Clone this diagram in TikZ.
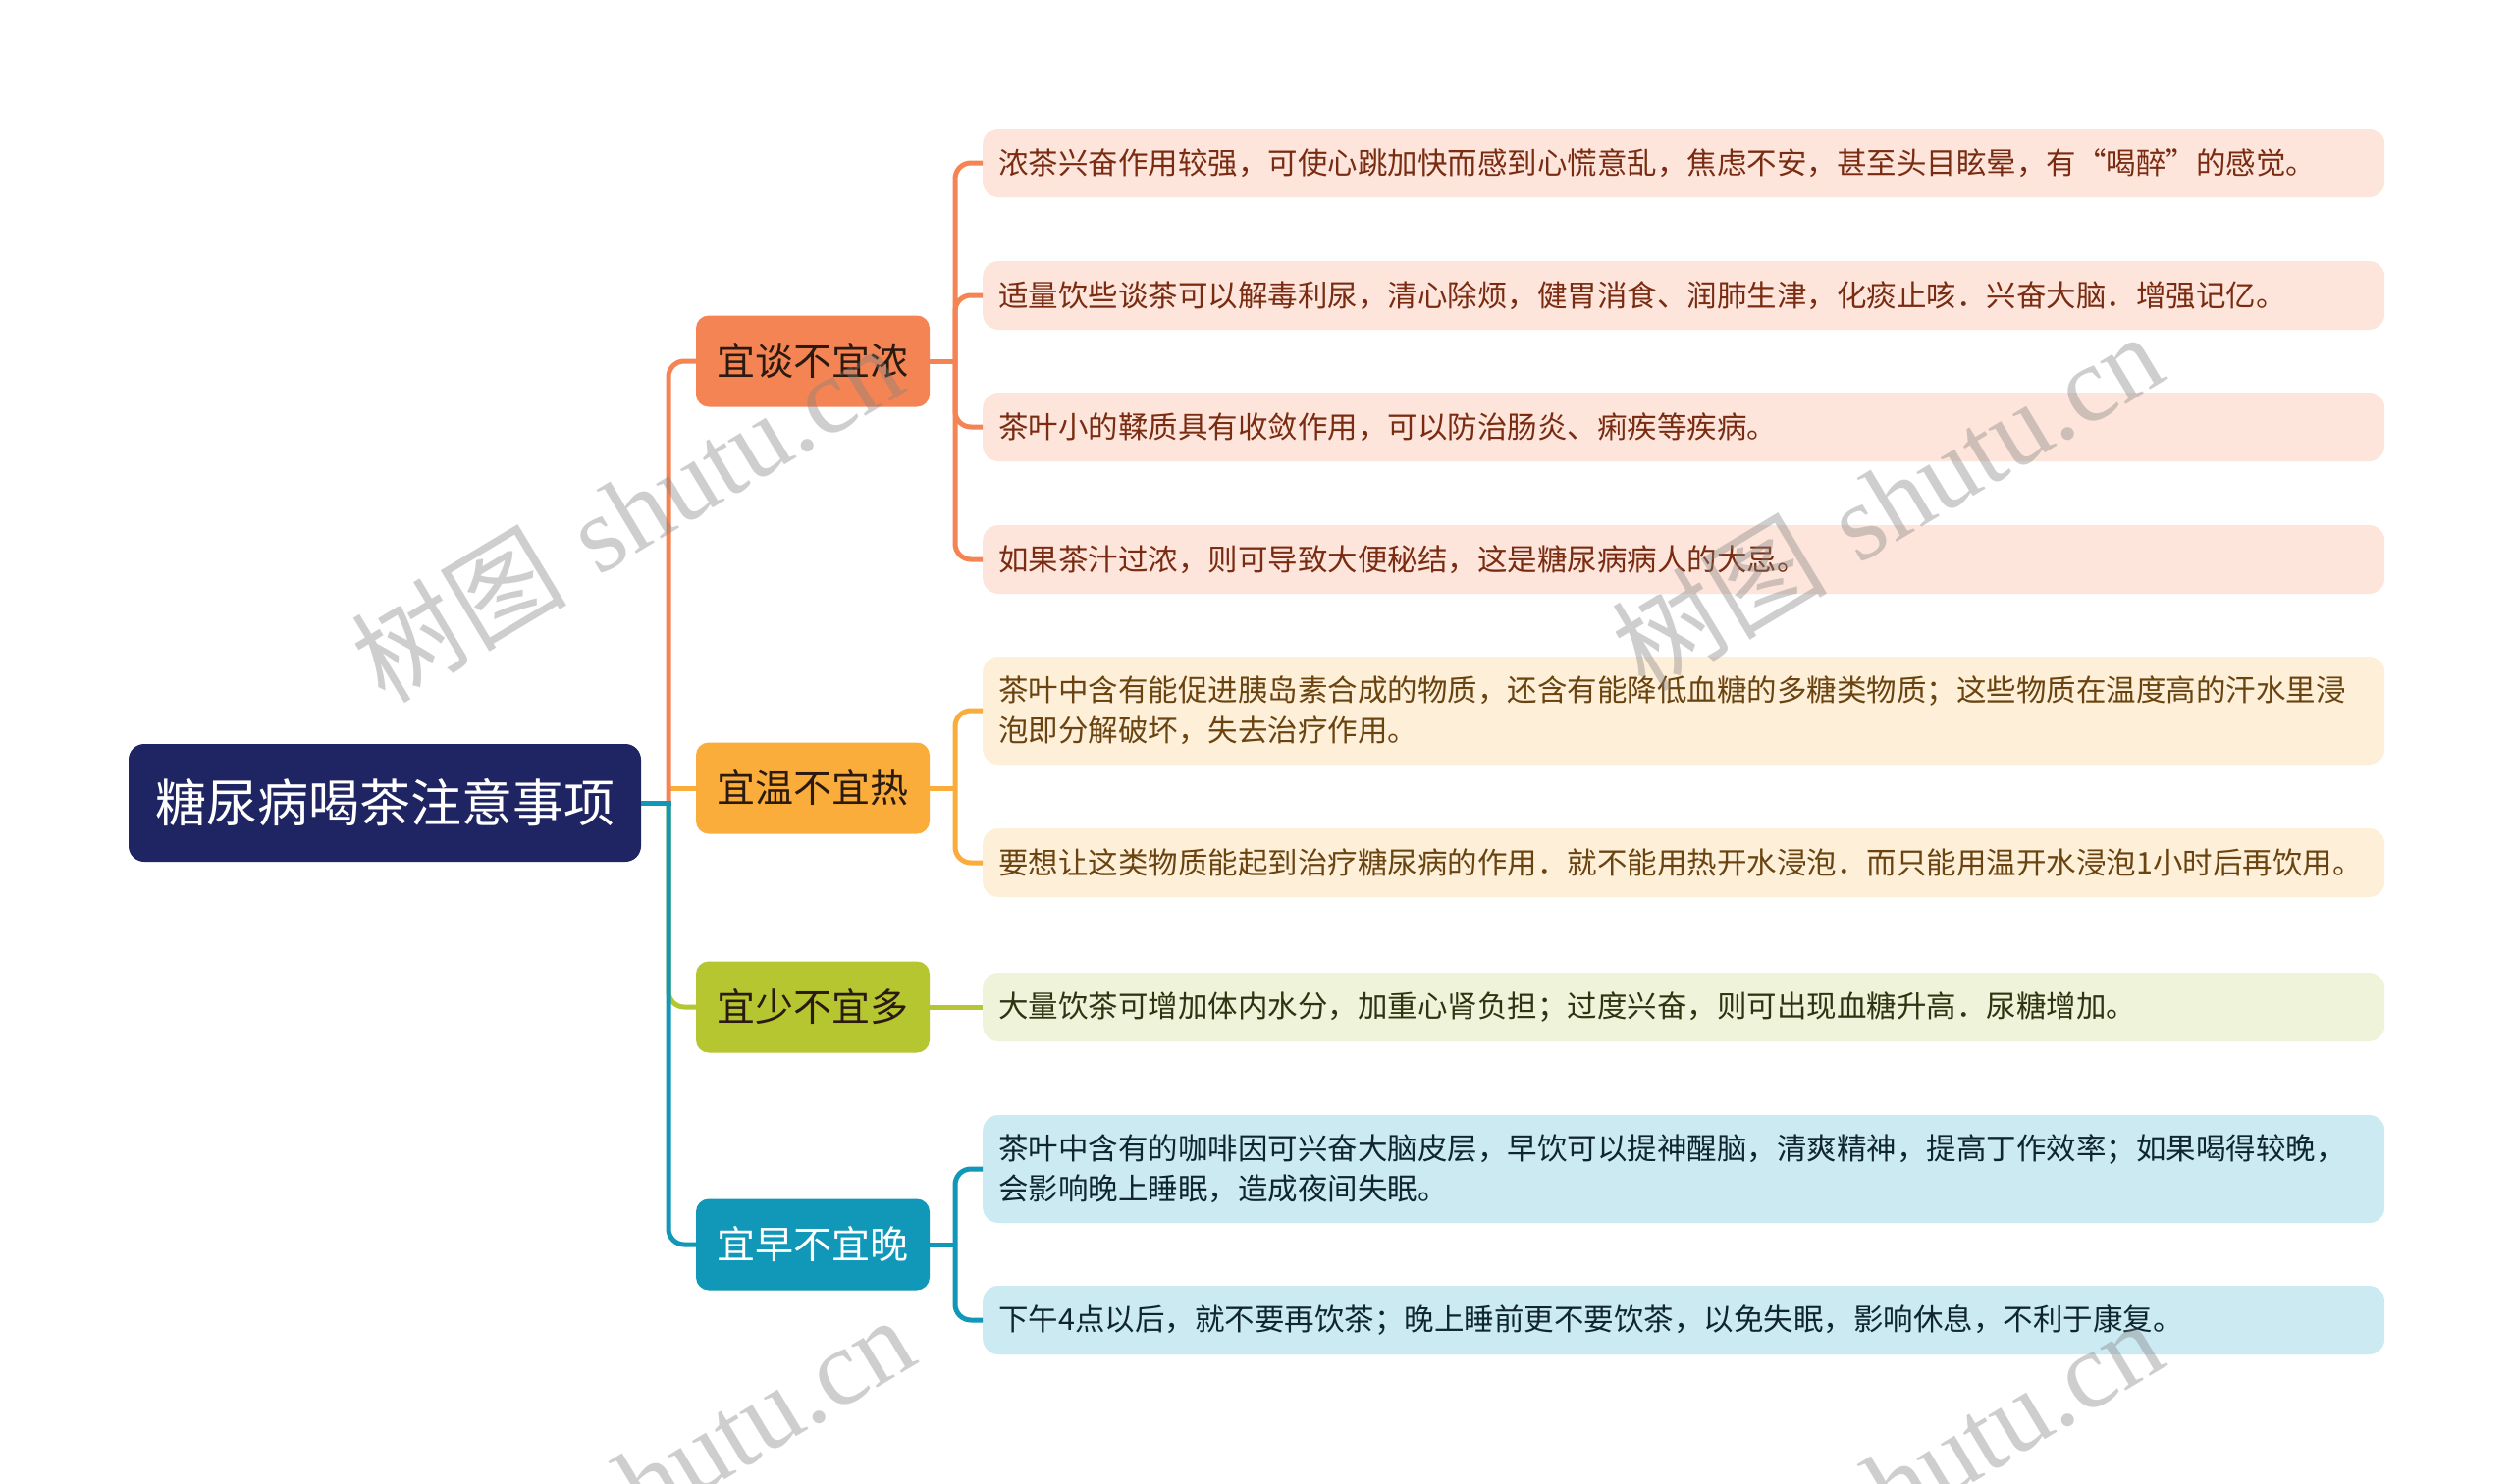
\documentclass[tikz,border=0pt]{standalone}
\usepackage{fontspec}
\newfontfamily\cjk{Noto Sans CJK SC}
\newfontfamily\wmfont{Liberation Serif}
\definecolor{rootc}{HTML}{1F2462}
\definecolor{cOr}{HTML}{F58454}
\definecolor{cYe}{HTML}{FBAD3B}
\definecolor{cGr}{HTML}{B5C630}
\definecolor{cTe}{HTML}{1198B8}
\definecolor{fOr}{HTML}{FDE5DB}
\definecolor{fYe}{HTML}{FEEFD9}
\definecolor{fGr}{HTML}{EEF3D9}
\definecolor{fTe}{HTML}{CCEAF2}
\definecolor{tOr}{HTML}{7A2C12}
\definecolor{tYe}{HTML}{6A4410}
\definecolor{tGr}{HTML}{2E3312}
\definecolor{tTe}{HTML}{10262E}
\definecolor{tDk}{HTML}{2A1A10}
\begin{document}
\begin{tikzpicture}[x=1pt,y=-1pt,
  rootbox/.style={fill=rootc, text=white, rounded corners=16pt, minimum width=522pt, minimum height=120pt, inner sep=0pt, font=\cjk\fontsize{52}{60}\selectfont},
  topicbox/.style={rounded corners=13pt, minimum width=238pt, minimum height=93pt, inner sep=0pt, font=\cjk\fontsize{39}{46}\selectfont},
  leafbox/.style={rounded corners=16pt, anchor=west, inner xsep=16pt, inner ysep=0pt, text width=1396pt, align=left, minimum height=70pt, font=\cjk\fontsize{30.5}{41}\selectfont},
  leaftwo/.style={leafbox, minimum height=110pt},
  link/.style={line width=5pt},
  rlink/.style={line width=5pt, rounded corners=16pt},
  wmark/.style={rotate=31, text=gray, opacity=0.38, font=\fontsize{110}{110}\selectfont}
]
\useasboundingbox (0,0) rectangle (2560,1512);
\fill[white] (0,0) rectangle (2560,1512);

% root and topics
\node[rootbox] (root) at (392,818) {糖尿病喝茶注意事项};
\node[topicbox, fill=cOr, text=tDk] (t1) at (828,368) {宜谈不宜浓};
\node[topicbox, fill=cYe, text=tDk] (t2) at (828,803) {宜温不宜热};
\node[topicbox, fill=cGr, text=tDk] (t3) at (828,1026) {宜少不宜多};
\node[topicbox, fill=cTe, text=white] (t4) at (828,1268) {宜早不宜晚};

% leaves
\node[leafbox, fill=fOr, text=tOr] (a1) at (1001,166) {浓茶兴奋作用较强，可使心跳加快而感到心慌意乱，焦虑不安，甚至头目眩晕，有“喝醉”的感觉。};
\node[leafbox, fill=fOr, text=tOr] (a2) at (1001,301) {适量饮些谈茶可以解毒利尿，清心除烦，健胃消食、润肺生津，化痰止咳．兴奋大脑．增强记亿。};
\node[leafbox, fill=fOr, text=tOr] (a3) at (1001,435) {茶叶小的鞣质具有收敛作用，可以防治肠炎、痢疾等疾病。};
\node[leafbox, fill=fOr, text=tOr] (a4) at (1001,570) {如果茶汁过浓，则可导致大便秘结，这是糖尿病病人的大忌。};
\node[leaftwo, fill=fYe, text=tYe] (b1) at (1001,724) {茶叶中含有能促进胰岛素合成的物质，还含有能降低血糖的多糖类物质；这些物质在温度高的汗水里浸\\泡即分解破坏，失去治疗作用。};
\node[leafbox, fill=fYe, text=tYe] (b2) at (1001,879) {要想让这类物质能起到治疗糖尿病的作用．就不能用热开水浸泡．而只能用温开水浸泡1小时后再饮用。};
\node[leafbox, fill=fGr, text=tGr] (c1) at (1001,1026) {大量饮茶可增加体内水分，加重心肾负担；过度兴奋，则可出现血糖升高．尿糖增加。};
\node[leaftwo, fill=fTe, text=tTe] (d1) at (1001,1191) {茶叶中含有的咖啡因可兴奋大脑皮层，早饮可以提神醒脑，清爽精神，提高丁作效率；如果喝得较晚，\\会影响晚上睡眠，造成夜间失眠。};
\node[leafbox, fill=fTe, text=tTe] (d2) at (1001,1345) {下午4点以后，就不要再饮茶；晚上睡前更不要饮茶，以免失眠，影响休息，不利于康复。};

% root to topics
\coordinate (rt) at (681,818);
\draw[link, cYe] (681,803) -- (t2.west);
\draw[rlink, cOr] (rt) |- (t1.west);
\draw[rlink, cGr] (rt) |- (t3.west);
\draw[rlink, cTe] (rt) |- (t4.west);
\draw[link, cTe] (root.east) -- (683.5,818);

% topic 1 to leaves
\coordinate (j1) at (973,368);
\draw[link, cOr] (t1.east) -- (j1);
\foreach \l in {a1,a2,a3,a4} \draw[rlink, cOr] (j1) |- (\l.west);
% topic 2
\coordinate (j2) at (973,803);
\draw[link, cYe] (t2.east) -- (j2);
\foreach \l in {b1,b2} \draw[rlink, cYe] (j2) |- (\l.west);
% topic 3
\draw[link, cGr] (t3.east) -- (c1.west);
% topic 4
\coordinate (j4) at (973,1268);
\draw[link, cTe] (t4.east) -- (j4);
\foreach \l in {d1,d2} \draw[rlink, cTe] (j4) |- (\l.west);

% watermarks
\begin{scope}
\clip (0,0) rectangle (2560,1512);
\node[wmark] (w1) at (638,522) {{\cjk 树图} {\wmfont shutu.cn}};
\node[wmark] (w2) at (1922,510) {{\cjk 树图} {\wmfont shutu.cn}};
\node[wmark] (w3) at (650,1512) {{\cjk 树图} {\wmfont shutu.cn}};
\node[wmark] (w4) at (1922,1515) {{\cjk 树图} {\wmfont shutu.cn}};
\end{scope}
\end{tikzpicture}
\end{document}
